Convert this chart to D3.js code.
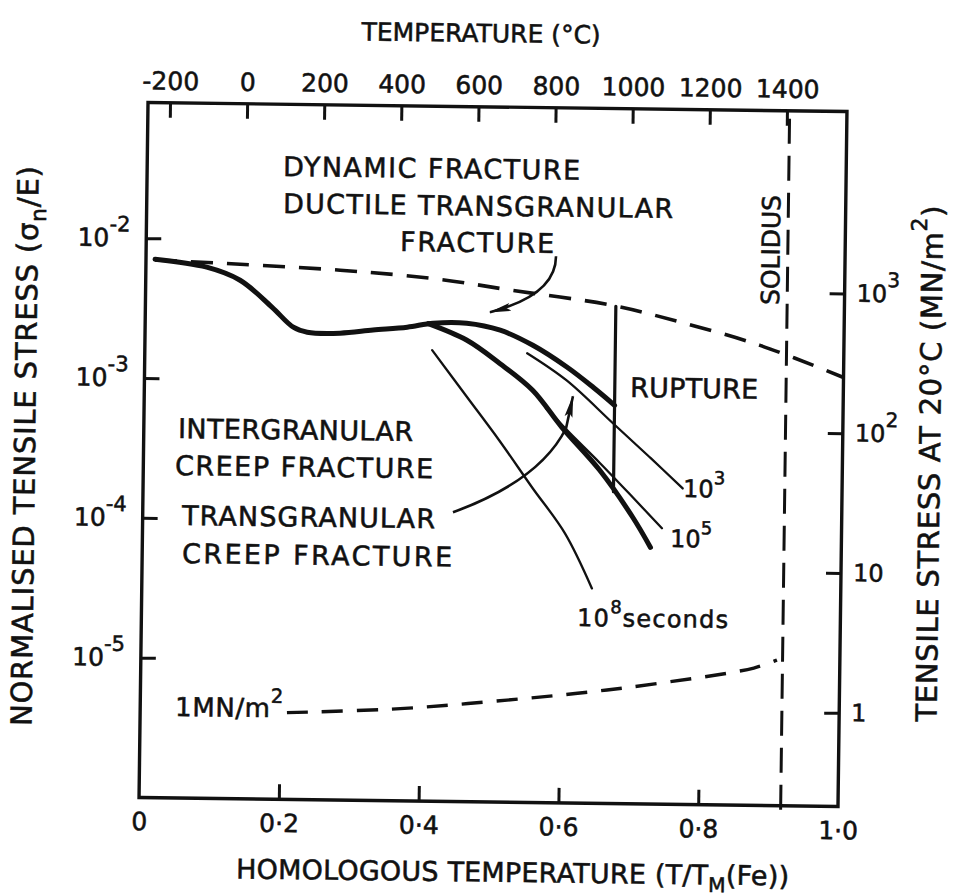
<!DOCTYPE html>
<html><head><meta charset="utf-8">
<script src="https://cdn.jsdelivr.net/npm/d3@7"></script>
<style>
html,body{margin:0;padding:0;background:#fff;}
svg{display:block;}
text{font-family:"DejaVu Sans",sans-serif;fill:#111;stroke:#111;stroke-width:0.55px;}
</style></head><body>
<svg id="chart" width="966" height="896"></svg>
<script>
// ---------- data ----------
const homologousTicks = [0, 0.2, 0.4, 0.6, 0.8, 1.0];
const homologousTickLabels = ["0", "0·2", "0·4", "0·6", "0·8", "1·0"];
const temperatureTicks = [-200, 0, 200, 400, 600, 800, 1000, 1200, 1400];
const temperatureTickLabels = ["-200", "0", "200", "400", "600", "800", "1000", "1200", "1400"];
const stressTicks = [1e-2, 1e-3, 1e-4, 1e-5];
const stressTickExponents = ["-2", "-3", "-4", "-5"];
const mnTicks = [1000, 100, 10, 1];
const mnTickBase = ["10", "10", "10", "1"];
const mnTickExponents = ["3", "2", "", ""];
const youngsModulus = 2.14e5;      // MN/m^2 at 20°C
const solidusHomologous = 0.918;

// boundaries: [homologous temperature, normalised stress]
const dynamicBoundary = [[0.013,7.0e-3],[0.278,6.15e-3],[0.421,5.4e-3],[0.521,4.6e-3],[0.668,3.65e-3],[0.761,2.85e-3],[0.880,1.95e-3],[1.0,1.17e-3]];
const fractureBoundary = [[0.013,7.08e-3],[0.087,6.28e-3],[0.135,5.1e-3],[0.181,3.30e-3],[0.212,2.38e-3],[0.232,2.20e-3],[0.279,2.18e-3],[0.326,2.31e-3],[0.375,2.44e-3],[0.412,2.62e-3],[0.460,2.64e-3],[0.508,2.37e-3],[0.555,1.86e-3],[0.604,1.31e-3],[0.642,9.44e-4],[0.673,7.05e-4]];
const transgranularBoundary = [[0.405,2.6e-3],[0.460,2.0e-3],[0.508,1.37e-3],[0.5555,8.87e-4],[0.598,4.85e-4],[0.653,2.41e-4],[0.701,1.12e-4],[0.727,6.84e-5]];
const creep1e3 = [[0.547,1.63e-3],[0.604,1.05e-3],[0.671,5.24e-4],[0.7246,3.01e-4],[0.772,1.82e-4]];
const creep1e5 = [[0.575,6.6e-4],[0.610,4.4e-4],[0.653,2.72e-4],[0.701,1.55e-4],[0.743,9.4e-5]];
const creep1e8 = [[0.411,1.68e-3],[0.462,7.8e-4],[0.5085,3.87e-4],[0.5566,1.79e-4],[0.6044,8.47e-5],[0.644,3.44e-5]];
const ruptureLine = [[0.673,3.6e-3],[0.673,1.7e-4]];
const oneMNLine = [[0.210,4.17e-6],[0.372,4.56e-6],[0.500,5.22e-6],[0.622,6.07e-6],[0.740,7.30e-6],[0.877,9.6e-6],[0.910,1.1e-5]];
const ductileArrow = [[0.5865,8.1e-3],[0.587,4.27e-3],[0.493,3.18e-3]];
const transArrow = [[0.4438,1.17e-4],[0.5677,2.01e-4],[0.604,4.78e-4],[0.6133,8.1e-4]];

// ---------- layout ----------
const ink = "#111";
const frame = {left:143.5, right:842.5, top:107, bottom:802};
const x = d3.scaleLinear().domain([0,1]).range([frame.left, frame.right]);
const yTopVal = Math.pow(10,-1.03);
const y = d3.scaleLog().domain([1e-6, yTopVal]).range([frame.bottom, frame.top]);
const yR = d3.scaleLog().domain([1e-6*youngsModulus, yTopVal*youngsModulus]).range([frame.bottom, frame.top]);
const tScale = d3.scaleLinear().domain([-200,1400]).range([165.5,782.5]);

const svg = d3.select("#chart");
svg.append("rect").attr("width",966).attr("height",896).attr("fill","#fff");
const defs = svg.append("defs");
defs.append("marker").attr("id","ah").attr("viewBox","0 0 22 10").attr("refX",21).attr("refY",5)
  .attr("markerWidth",22).attr("markerHeight",10).attr("markerUnits","userSpaceOnUse").attr("orient","auto")
  .append("path").attr("d","M0,1 L22,5 L0,9 L4,5 Z").attr("fill",ink);

const g = svg.append("g").attr("transform","rotate(0.74,493,454.5)");

// frame
g.append("rect").attr("x",frame.left).attr("y",frame.top).attr("width",frame.right-frame.left).attr("height",frame.bottom-frame.top)
  .attr("fill","none").attr("stroke",ink).attr("stroke-width",3.4);

function styleAxis(sel){
  sel.select(".domain").remove();
  sel.attr("font-family","DejaVu Sans, sans-serif");
  sel.selectAll(".tick line").attr("stroke",ink).attr("stroke-width",3);
  sel.selectAll(".tick text").attr("fill",ink);
}

g.append("g").attr("transform",`translate(0,${frame.top})`)
  .call(d3.axisTop(tScale).tickValues(temperatureTicks).tickFormat(d=>temperatureTickLabels[temperatureTicks.indexOf(d)]).tickSize(-15).tickPadding(13))
  .attr("font-size",25).call(styleAxis);

g.append("g").attr("transform",`translate(0,${frame.bottom})`)
  .call(d3.axisBottom(x).tickValues(homologousTicks).tickFormat(d=>homologousTickLabels[homologousTicks.indexOf(d)]).tickSize(-15).tickPadding(15))
  .attr("font-size",25).call(styleAxis)
  .call(s=>s.selectAll(".tick").filter(d=>d===0||d===1).select("line").remove());

g.append("g").attr("transform",`translate(${frame.left},0)`)
  .call(d3.axisLeft(y).tickValues(stressTicks).tickSize(-15).tickPadding(16))
  .attr("font-size",25).call(styleAxis)
  .call(s=>s.selectAll(".tick text").text(null).each(function(d){
    const i = stressTicks.indexOf(d); const t = d3.select(this);
    t.append("tspan").text("10");
    t.append("tspan").attr("dy",-15).attr("font-size",21).text(stressTickExponents[i]);
  }));

g.append("g").attr("transform",`translate(${frame.right},0)`)
  .call(d3.axisRight(yR).tickValues(mnTicks).tickSize(-15).tickPadding(12))
  .attr("font-size",24).call(styleAxis)
  .call(s=>s.selectAll(".tick text").text(null).each(function(d){
    const i = mnTicks.indexOf(d); const t = d3.select(this);
    t.append("tspan").text(mnTickBase[i]);
    if(mnTickExponents[i]) t.append("tspan").attr("dy",-15).attr("font-size",20).text(mnTickExponents[i]);
  }));

// lines
const line = d3.line().x(d=>x(d[0])).y(d=>y(d[1])).curve(d3.curveCatmullRom.alpha(0.5));
const straight = d3.line().x(d=>x(d[0])).y(d=>y(d[1]));
function draw(data, w, dash, gen){
  const p = g.append("path").datum(data).attr("d",(gen||line)).attr("fill","none").attr("stroke",ink)
    .attr("stroke-width",w).attr("stroke-linejoin","round").attr("stroke-linecap","round");
  if(dash) p.attr("stroke-dasharray",dash).attr("stroke-linecap","butt");
  return p;
}
draw(dynamicBoundary, 3.6, "22,14");
draw(oneMNLine, 3.4, "21,14");
draw([[solidusHomologous,yTopVal],[solidusHomologous,1e-6]], 3, "25,12", straight).attr("transform","translate(0,8)");
draw(fractureBoundary, 5);
draw(transgranularBoundary, 5);
draw(creep1e3, 2.3);
draw(creep1e5, 2.3);
draw(creep1e8, 2.3);
draw(ruptureLine, 3.2, null, straight);

// arrows
const P = d => [x(d[0]), y(d[1])];
{
  const [a,b,c] = ductileArrow.map(P);
  g.append("path").attr("d",`M${a}Q${b} ${c}`).attr("fill","none").attr("stroke",ink).attr("stroke-width",2.6).attr("marker-end","url(#ah)");
}
{
  const [a,b,c,d] = transArrow.map(P);
  g.append("path").attr("d",`M${a}Q${b} ${c}L${d}`).attr("fill","none").attr("stroke",ink).attr("stroke-width",2.6).attr("marker-end","url(#ah)");
}

// text helper
function addText(parts, o){
  const t = g.append("text").attr("x",o.x).attr("y",o.y).attr("font-size",o.size).attr("text-anchor",o.anchor||"start");
  if(o.len) t.attr("textLength",o.len).attr("lengthAdjust","spacing");
  if(o.rot!=null) t.attr("transform",`rotate(${o.rot},${o.x},${o.y})`);
  let shift = 0;
  parts.forEach(p=>{
    const s = t.append("tspan").text(p.t);
    const target = p.k==="sup" ? -o.size*0.55 : p.k==="sub" ? o.size*0.28 : 0;
    if(target!==shift){ s.attr("dy",target-shift); shift = target; }
    if(p.k) s.attr("font-size",o.size*0.75);
  });
  return t;
}
const N = t => ({t});
addText([N("TEMPERATURE (°C)")], {x:475.7, y:42.2, size:25, anchor:"middle"});
addText([N("HOMOLOGOUS TEMPERATURE (T/T"),{t:"M",k:"sub"},N("(Fe))")], {x:518, y:881.7, size:27, anchor:"middle", len:553});
addText([N("NORMALISED TENSILE STRESS (σ"),{t:"n",k:"sub"},N("/E)")], {x:35, y:452, size:29, anchor:"middle", rot:-90, len:560});
addText([N("TENSILE STRESS AT 20°C (MN/m"),{t:"2",k:"sup"},N(")")], {x:940, y:458, size:29, anchor:"middle", rot:-90, len:516});

addText([N("DYNAMIC FRACTURE")], {x:279.4, y:178.7, size:27, len:297});
addText([N("DUCTILE TRANSGRANULAR")], {x:279.9, y:215.7, size:27, len:390});
addText([N("FRACTURE")], {x:397.4, y:252.2, size:27, len:154});
addText([N("RUPTURE")], {x:629.3, y:395.2, size:27, len:128});
addText([N("INTERGRANULAR")], {x:177.8, y:442.1, size:27, len:235});
addText([N("CREEP FRACTURE")], {x:175.3, y:479.1, size:27, len:258});
addText([N("TRANSGRANULAR")], {x:182.9, y:529, size:27, len:253});
addText([N("CREEP FRACTURE")], {x:183.4, y:567, size:27, len:270});
addText([N("10"),{t:"8",k:"sup"},N("seconds")], {x:579.2, y:624.9, size:24, len:151});
addText([N("10"),{t:"3",k:"sup"}], {x:683.6, y:494.5, size:24});
addText([N("10"),{t:"5",k:"sup"}], {x:671.2, y:544.7, size:24});
addText([N("1MN/m"),{t:"2",k:"sup"}], {x:178.4, y:720, size:26, len:108});
addText([N("SOLIDUS")], {x:777, y:246.4, size:25, anchor:"middle", rot:-90, len:110});
</script>
</body></html>
